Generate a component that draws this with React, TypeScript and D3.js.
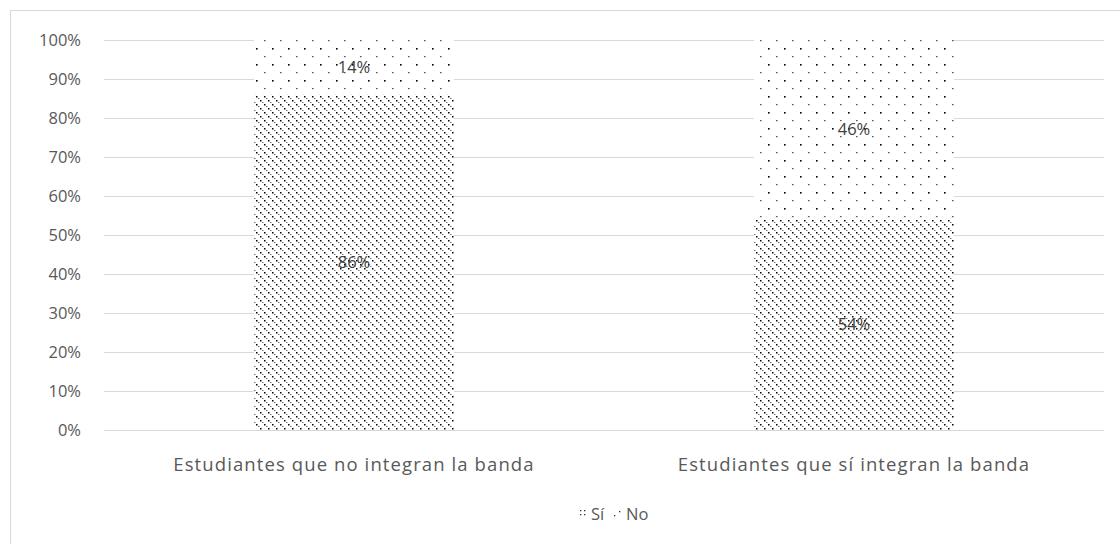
import React from "react";
import * as d3 from "d3";

const categories = ["Estudiantes que no integran la banda", "Estudiantes que sí integran la banda"];
const seriesNames = ["Sí", "No"];
const siValues = [0.86, 0.54];
const noValues = [0.14, 0.46];
const yTicks = [0, 0.1, 0.2, 0.3, 0.4, 0.5, 0.6, 0.7, 0.8, 0.9, 1.0];

const W = 1120;
const H = 544;
const margin = { left: 104, right: 16, top: 40, bottom: 114 };

export default function App() {
  const x = d3.scaleBand<string>().domain(categories).range([margin.left, W - margin.right]).paddingInner(0.6).paddingOuter(0.3);
  const y = d3.scaleLinear().domain([0, 1]).range([H - margin.bottom, margin.top]);
  const fmt = d3.format(".0%");
  const stack = categories.map((c, i) => {
    const segs = [
      { name: seriesNames[0], y0: 0, y1: siValues[i], v: siValues[i] },
      { name: seriesNames[1], y0: siValues[i], y1: siValues[i] + noValues[i], v: noValues[i] },
    ];
    return { c, segs };
  });
  const font = "'Open Sans', sans-serif";
  const fs = 16.5;
  return (
    <div style={{ position: "absolute", left: 0, top: 0 }}>
      <svg width={W} height={H} style={{ display: "block" }}>
        <defs>
          <pattern id="patSi" patternUnits="userSpaceOnUse" width={8} height={8}>
            <rect width={8} height={8} fill="#fff" />
            <rect x={0} y={0} width={1.5} height={1.5} fill="#000" />
            <rect x={4} y={4} width={1.5} height={1.5} fill="#000" />
            <rect x={2} y={2} width={1.5} height={1} fill="#777" />
            <rect x={6} y={6} width={1.5} height={1} fill="#777" />
          </pattern>
          <pattern id="patNo" patternUnits="userSpaceOnUse" width={16} height={16}>
            <rect width={16} height={16} fill="#fff" />
            <rect x={0} y={0} width={1.6} height={1.6} fill="#000" />
            <rect x={8} y={8} width={1.6} height={1.2} fill="#555" />
          </pattern>
          <pattern id="legSi" patternUnits="userSpaceOnUse" x={579} y={509} width={4} height={4}>
            <rect width={4} height={4} fill="#fff" />
            <rect x={1} y={1} width={1.3} height={1.3} fill="#333" />
          </pattern>
          <pattern id="legNo" patternUnits="userSpaceOnUse" x={613} y={509} width={9} height={9}>
            <rect width={9} height={9} fill="#fff" />
            <rect x={1} y={6} width={1.3} height={1.3} fill="#333" />
            <rect x={6} y={2} width={1.3} height={1.3} fill="#333" />
          </pattern>
        </defs>
        <rect x={10.5} y={10.5} width={W} height={H} fill="#fff" stroke="#d9d9d9" strokeWidth={1} />
        {yTicks.map((t) => (
          <g key={t}>
            <line x1={margin.left} x2={W - margin.right} y1={Math.round(y(t)) + 0.5} y2={Math.round(y(t)) + 0.5} stroke="#d9d9d9" strokeWidth={1} />
            <text x={81} y={y(t)} dy="0.35em" textAnchor="end" fontSize={fs} fill="#595959" fontFamily={font}>
              {fmt(t)}
            </text>
          </g>
        ))}
        {stack.map((s) => (
          <g key={s.c}>
            {s.segs.map((seg, j) => (
              <rect
                key={seg.name}
                x={x(s.c)!}
                width={x.bandwidth()}
                y={y(seg.y1)}
                height={y(seg.y0) - y(seg.y1)}
                fill={j === 0 ? "url(#patSi)" : "url(#patNo)"}
              />
            ))}
            {s.segs.map((seg) => (
              <text
                key={seg.name + "l"}
                x={x(s.c)! + x.bandwidth() / 2}
                y={(y(seg.y0) + y(seg.y1)) / 2}
                dy="0.35em"
                textAnchor="middle"
                fontSize={fs}
                fill="#404040"
                fontFamily={font}
              >
                {fmt(seg.v)}
              </text>
            ))}
            <text x={x(s.c)! + x.bandwidth() / 2} y={465} dy="0.35em" textAnchor="middle" fontSize={18.5} letterSpacing={1.1} fill="#595959" fontFamily={font}>
              {s.c}
            </text>
          </g>
        ))}
        <g>
          <rect x={579} y={509} width={9} height={9} fill="url(#legSi)" />
          <text x={591} y={514} dy="0.35em" fontSize={fs} fill="#595959" fontFamily={font}>{seriesNames[0]}</text>
          <rect x={613} y={509} width={9} height={9} fill="url(#legNo)" />
          <text x={626} y={514} dy="0.35em" fontSize={fs} fill="#595959" fontFamily={font}>{seriesNames[1]}</text>
        </g>
      </svg>
    </div>
  );
}
